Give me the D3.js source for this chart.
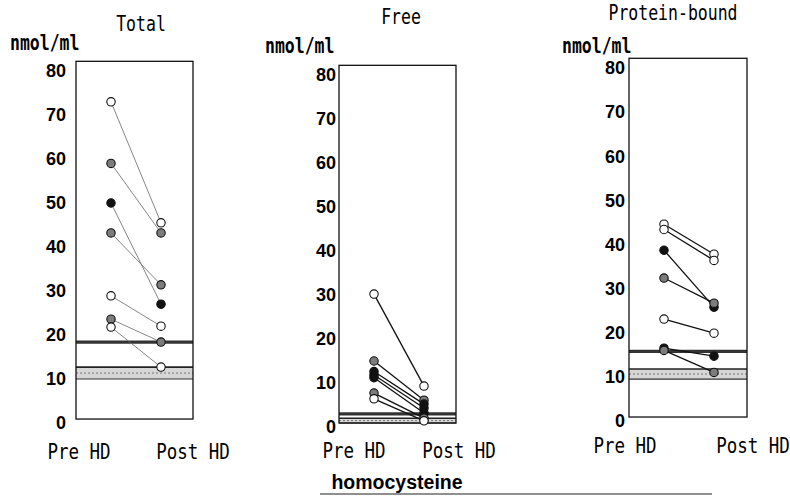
<!DOCTYPE html>
<html>
<head>
<meta charset="utf-8">
<script src="https://cdn.jsdelivr.net/npm/d3@7"></script>
<style>
  body { margin: 0; background: #fff; }
  svg { display: block; }
  .tick text { font-family: "Liberation Sans", Arial, sans-serif; font-weight: bold; font-size: 18px; fill: #000; }
  .mono { font-family: "DejaVu Sans Mono", monospace; fill: #000; }
</style>
</head>
<body>
<svg id="chart" width="790" height="496"></svg>
<script>
'use strict';

// x categories and y ticks
var phases = ["Pre HD", "Post HD"];
var yTicks = [0, 10, 20, 30, 40, 50, 60, 70, 80];

// Total homocysteine (nmol/ml), one entry per patient
var totalPre  = [73, 59, 50, 43.2, 28.9, 23.6, 21.8];
var totalPost = [45.5, 43.2, 27, 31.4, 22, 18.4, 12.7];
var totalKind = ["open", "gray", "black", "gray", "open", "gray", "open"];
var totalRefLine = 18.4;
var totalRefBand = [10, 12.7];

// Free homocysteine
var freePre  = [30.2, 15, 12.6, 11.8, 11.2, 7.7, 6.4];
var freePost = [9.3, 6.1, 5.2, 4.3, 3.2, 2.0, 1.4];
var freeKind = ["open", "gray", "black", "black", "black", "gray", "open"];
var freeRefLine = 3.0;
var freeRefBand = [0.9, 2.0];

// Protein-bound homocysteine
var boundPre  = [44.6, 43.4, 38.7, 32.4, 23.1, 16.5, 16.0];
var boundPost = [37.8, 36.4, 25.8, 26.7, 19.9, 14.7, 11.0];
var boundKind = ["open", "open", "black", "gray", "open", "black", "gray"];
var boundRefLine = 15.8;
var boundRefBand = [9.5, 11.8];

var svg = d3.select("#chart");

var markerFill = d3.scaleOrdinal()
    .domain(["open", "gray", "black"])
    .range(["#ffffff", "#7c7c7c", "#111111"]);

// layout of the three panels
var panels = [
    {title: "Total", pre: totalPre, post: totalPost, kind: totalKind, line: totalRefLine, band: totalRefBand,
     boxX: 76, boxW: 117, y0: 423, y80: 71, gap: 10, titleX: 141, titleY: 31, unitX: 10, unitY: 50,
     preX: 79, postX: 193, labY: 459, lw: 0.8, lc: "#666"},
    {title: "Free", pre: freePre, post: freePost, kind: freeKind, line: freeRefLine, band: freeRefBand,
     boxX: 339, boxW: 117, y0: 427, y80: 75, gap: 3, titleX: 401, titleY: 24, unitX: 265, unitY: 53,
     preX: 354, postX: 459, labY: 458, lw: 1.3, lc: "#111"},
    {title: "Protein-bound", pre: boundPre, post: boundPost, kind: boundKind, line: boundRefLine, band: boundRefBand,
     boxX: 629, boxW: 118, y0: 421, y80: 68, gap: 4, titleX: 673, titleY: 20, unitX: 562, unitY: 53,
     preX: 625, postX: 753, labY: 453, lw: 1.3, lc: "#111"}
];

function monoText(g, x, y, txt, anchor, size, weight) {
    g.append("text")
        .attr("class", "mono")
        .attr("transform", "translate(" + x + "," + y + ") scale(1,1.25)")
        .attr("text-anchor", anchor)
        .style("font-size", size + "px")
        .style("font-weight", weight || "normal")
        .text(txt);
}

panels.forEach(function(p) {
    var g = svg.append("g");

    var y = d3.scaleLinear().domain([0, 80]).range([p.y0, p.y80]);
    var x = d3.scalePoint().domain(phases).range([p.boxX + 35, p.boxX + 85]);

    var boxTop = y(82.2), boxBottom = y(0.9);
    var x1 = p.boxX, x2 = p.boxX + p.boxW;

    // reference band (stippled)
    g.append("rect")
        .attr("x", x1).attr("width", p.boxW)
        .attr("y", y(p.band[1]))
        .attr("height", y(p.band[0]) - y(p.band[1]))
        .attr("fill", "#d6d6d6");
    g.append("line")
        .attr("x1", x1).attr("x2", x2)
        .attr("y1", y(p.band[1])).attr("y2", y(p.band[1]))
        .attr("stroke", "#222").attr("stroke-width", 1.6);
    g.append("line")
        .attr("x1", x1).attr("x2", x2)
        .attr("y1", y(p.band[0])).attr("y2", y(p.band[0]))
        .attr("stroke", "#333").attr("stroke-width", 1.1);
    g.append("line")
        .attr("x1", x1).attr("x2", x2)
        .attr("y1", y((p.band[0] + p.band[1]) / 2)).attr("y2", y((p.band[0] + p.band[1]) / 2))
        .attr("stroke", "#777").attr("stroke-width", 1)
        .attr("stroke-dasharray", "2,2");

    // thick reference line
    g.append("line")
        .attr("x1", x1).attr("x2", x2)
        .attr("y1", y(p.line)).attr("y2", y(p.line))
        .attr("stroke", "#333").attr("stroke-width", 3.2);

    // frame
    g.append("rect")
        .attr("x", x1).attr("y", boxTop)
        .attr("width", p.boxW).attr("height", boxBottom - boxTop)
        .attr("fill", "none").attr("stroke", "#111").attr("stroke-width", 1.3);

    // y axis labels
    g.append("g")
        .attr("transform", "translate(" + (x1 - p.gap) + ",0)")
        .call(d3.axisLeft(y).tickValues(yTicks).tickSize(0).tickPadding(0))
        .call(function(a) { a.select(".domain").remove(); });

    // patient lines
    var idx = d3.range(p.pre.length);
    g.selectAll(".pair").data(idx).enter().append("line")
        .attr("x1", x(phases[0])).attr("x2", x(phases[1]))
        .attr("y1", function(i) { return y(p.pre[i]); })
        .attr("y2", function(i) { return y(p.post[i]); })
        .attr("stroke", p.lc).attr("stroke-width", p.lw);

    // markers
    [p.pre, p.post].forEach(function(vals, k) {
        g.selectAll(".m" + k).data(idx).enter().append("circle")
            .attr("cx", x(phases[k]))
            .attr("cy", function(i) { return y(vals[i]); })
            .attr("r", 4.2)
            .attr("fill", function(i) { return markerFill(p.kind[i]); })
            .attr("stroke", "#111").attr("stroke-width", 1.1);
    });

    // texts
    monoText(g, p.titleX, p.titleY, p.title, "middle", 16.5);
    monoText(g, p.unitX, p.unitY, "nmol/ml", "start", 16.5, "bold");
    monoText(g, p.preX, p.labY, phases[0], "middle", 17.5);
    monoText(g, p.postX, p.labY, phases[1], "middle", 17.5);
});

// bottom caption
svg.append("text")
    .attr("x", 397).attr("y", 489)
    .attr("text-anchor", "middle")
    .style("font-family", "Liberation Sans, Arial, sans-serif")
    .style("font-weight", "bold")
    .style("font-size", "19.5px")
    .text("homocysteine");
svg.append("line")
    .attr("x1", 320).attr("x2", 712)
    .attr("y1", 494).attr("y2", 494)
    .attr("stroke", "#222").attr("stroke-width", 1.2);
</script>
</body>
</html>
